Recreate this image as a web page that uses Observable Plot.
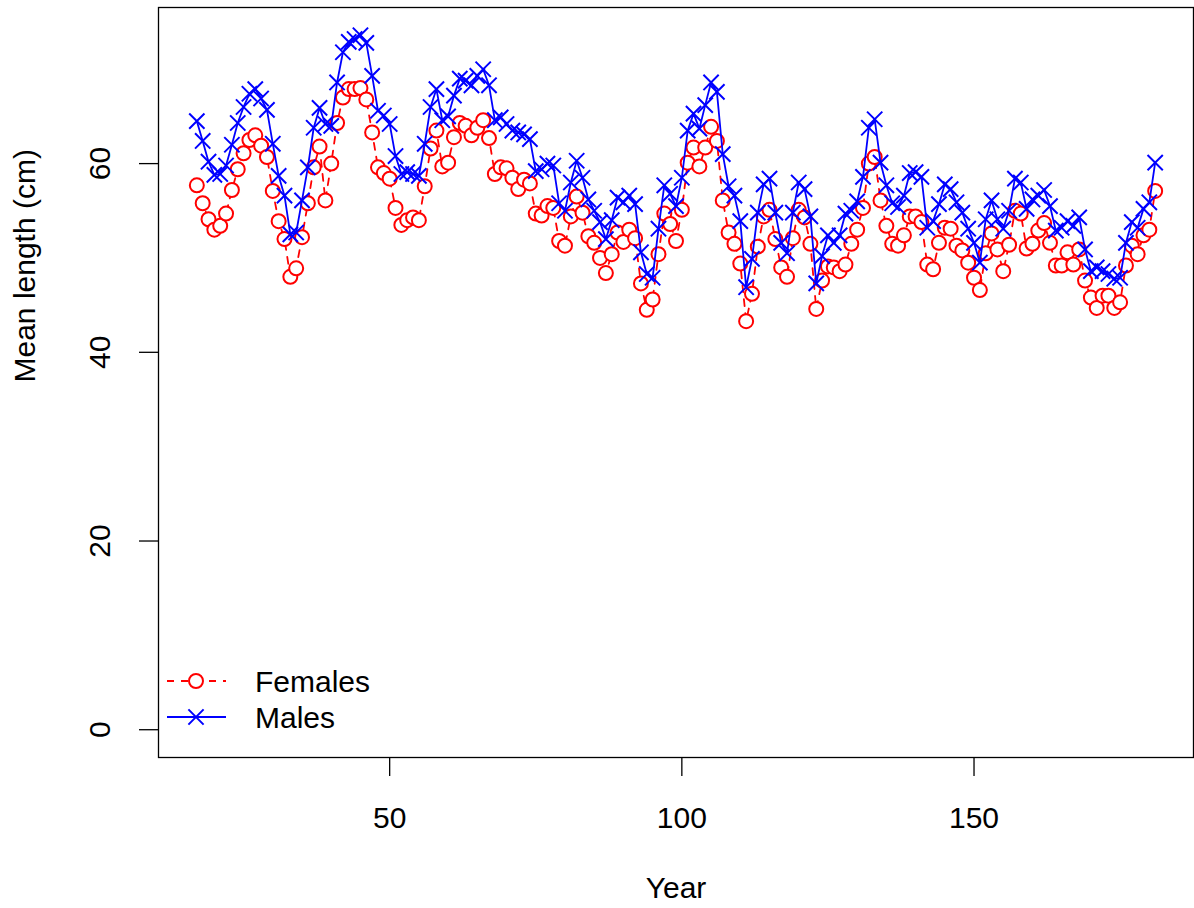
<!DOCTYPE html>
<html>
<head>
<meta charset="utf-8">
<script src="https://cdn.jsdelivr.net/npm/d3@7"></script>
<script src="https://cdn.jsdelivr.net/npm/@observablehq/plot@0.6"></script>
<style>
  html, body { margin: 0; padding: 0; background: #fff; }
  #wrap { position: relative; width: 1194px; height: 908px; font-family: "Liberation Sans", Arial, Helvetica, sans-serif; }
  #legend { position: absolute; left: 0; top: 0; }
</style>
</head>
<body>
<div id="wrap"></div>
<script>
const years = [17,18,19,20,21,22,23,24,25,26,27,28,29,30,31,32,33,34,35,36,37,38,39,40,41,42,43,44,45,46,47,48,49,50,
51,52,53,54,55,56,57,58,59,60,61,62,63,64,65,66,67,68,69,70,71,72,73,74,75,76,77,78,79,80,81,82,83,84,85,86,87,88,89,90,
91,92,93,94,95,96,97,98,99,100,101,102,103,104,105,106,107,108,109,110,111,112,113,114,115,116,117,118,119,120,
121,122,123,124,125,126,127,128,129,130,131,132,133,134,135,136,137,138,139,140,141,142,143,144,145,146,147,148,149,150,
151,152,153,154,155,156,157,158,159,160,161,162,163,164,165,166,167,168,169,170,171,172,173,174,175,176,177,178,179,180,181];

const females = [57.7,55.8,54.1,53.0,53.4,54.7,57.2,59.4,61.1,62.5,63.0,61.9,60.7,57.1,53.9,52.0,48.0,48.9,52.2,55.8,
59.6,61.8,56.1,60.0,64.3,67.0,67.9,67.9,68.0,66.8,63.3,59.6,59.0,58.4,55.3,53.5,54.0,54.3,54.0,57.6,
61.6,63.5,59.7,60.1,62.8,64.3,64.0,63.0,63.8,64.6,62.7,58.9,59.6,59.5,58.5,57.3,58.3,57.9,54.7,54.5,
55.5,55.3,51.8,51.3,54.4,56.5,54.8,52.3,51.6,50.0,48.4,50.4,52.7,51.7,53.0,52.1,47.3,44.5,45.6,50.4,
54.7,53.6,51.8,55.1,60.1,61.7,59.7,61.7,63.9,62.4,56.1,52.7,51.5,49.4,43.3,46.2,51.2,54.4,55.1,52.0,
49.0,48.0,52.1,55.1,54.3,51.5,44.6,47.6,49.1,49.0,48.6,49.3,51.5,53.0,55.3,60.0,60.7,56.1,53.4,51.5,
51.3,52.4,54.4,54.4,53.8,49.3,48.8,51.6,53.2,53.1,51.3,50.8,49.5,47.9,46.6,50.5,52.6,50.9,48.6,51.4,
55.0,54.7,51.0,51.5,52.9,53.7,51.6,49.2,49.2,50.6,49.3,50.9,47.6,45.8,44.7,46.0,46.0,44.7,45.3,49.2,
51.3,50.4,52.4,53.0,57.1];

const males = [64.5,62.4,60.2,58.8,58.9,59.8,62.0,64.3,66.0,67.4,67.9,66.9,65.7,62.1,58.7,56.6,52.5,52.7,56.1,59.6,
63.8,65.9,64.2,64.0,68.6,71.8,72.9,73.2,73.6,72.8,69.3,65.6,65.1,64.2,60.8,58.9,59.1,58.9,58.7,62.1,
66.0,67.9,64.6,65.0,67.2,69.0,68.8,68.3,69.3,70.0,68.3,64.6,64.9,64.2,63.5,63.3,63.1,62.6,59.2,59.4,
60.0,59.8,55.8,55.0,58.0,60.3,58.5,56.2,55.0,53.8,52.0,54.0,56.4,55.9,56.6,55.7,50.6,48.3,47.9,53.1,
57.7,56.8,55.5,58.5,63.5,65.3,63.7,66.2,68.6,67.6,61.0,57.6,56.6,53.9,46.9,49.9,54.8,57.8,58.4,54.8,
51.6,50.5,54.8,58.0,57.3,54.4,47.3,50.2,52.4,51.6,52.4,54.7,55.0,56.0,58.6,63.8,64.7,60.1,57.7,55.8,
55.4,56.6,59.0,59.1,58.6,53.2,53.9,55.7,57.8,57.3,55.9,54.8,53.1,51.6,49.5,54.1,56.1,54.1,53.1,55.0,
58.4,58.0,55.2,56.2,56.6,57.2,55.5,52.9,53.2,53.9,53.4,54.3,50.9,48.6,49.0,48.6,48.3,47.8,47.9,51.6,
53.8,53.2,55.2,55.9,60.1];

const xTicks = [50, 100, 150];
const yTicks = [0, 20, 40, 60];
const xTitle = "Year";
const yTitle = "Mean length (cm)";
const seriesNames = ["Females", "Males"];

const fem = years.map((yr, i) => ({year: yr, value: females[i]}));
const mal = years.map((yr, i) => ({year: yr, value: males[i]}));

// R-style 4% axis extension
const xMin = d3.min(years), xMax = d3.max(years);
const xPad = (xMax - xMin) * 0.04;
const yMaxData = d3.max([...females, ...males]);
const yMinData = 0;
const yPad = (yMaxData - yMinData) * 0.04;

const FONT = 30;

const chart = Plot.plot({
  width: 1194,
  height: 908,
  marginLeft: 158,
  marginRight: 1,
  marginTop: 7,
  marginBottom: 151,
  style: {fontFamily: '"Liberation Sans", Arial, Helvetica, sans-serif', fontSize: FONT + "px", background: "white", color: "black"},
  x: {domain: [xMin - xPad, xMax + xPad]},
  y: {domain: [yMinData - yPad, yMaxData + yPad]},
  marks: [
    Plot.frame({stroke: "black", strokeWidth: 1.3}),
    Plot.axisX({ticks: xTicks, tickSize: 19, tickFormat: () => "", label: null, strokeWidth: 1.3}),
    Plot.axisY({ticks: yTicks, tickSize: 19, tickFormat: () => "", label: null, strokeWidth: 1.3}),
    Plot.text(xTicks, {x: d => d, frameAnchor: "bottom", dy: 61, text: d => String(d), fontSize: FONT, lineAnchor: "middle", fill: "black"}),
    Plot.text(yTicks, {y: d => d, frameAnchor: "left", dx: -58, text: d => String(d), rotate: -90, fontSize: FONT, lineAnchor: "middle", textAnchor: "middle", fill: "black"}),
    Plot.text([xTitle], {frameAnchor: "bottom", dy: 131, text: d => d, fontSize: FONT, lineAnchor: "middle", fill: "black"}),
    Plot.text([yTitle], {frameAnchor: "left", dx: -133, text: d => d, rotate: -90, fontSize: FONT, lineAnchor: "middle", fill: "black"}),
    Plot.line(fem, {x: "year", y: "value", stroke: "#FF0000", strokeWidth: 1.8, strokeDasharray: "7,7"}),
    Plot.dot(fem, {x: "year", y: "value", r: 7, stroke: "#FF0000", strokeWidth: 2, fill: "white"}),
    Plot.line(mal, {x: "year", y: "value", stroke: "#0000FF", strokeWidth: 1.8}),
    Plot.dot(mal, {x: "year", y: "value", r: 7, symbol: "times", stroke: "#0000FF", strokeWidth: 2})
  ]
});

const wrap = document.getElementById("wrap");
wrap.appendChild(chart);

// Legend (R-style, inside plot bottom-left)
const ns = "http://www.w3.org/2000/svg";
const lg = document.createElementNS(ns, "svg");
lg.setAttribute("id", "legend");
lg.setAttribute("width", "400");
lg.setAttribute("height", "908");
const items = [
  {name: seriesNames[0], color: "#FF0000", dash: "7,7", sym: "circle", cy: 681},
  {name: seriesNames[1], color: "#0000FF", dash: null, sym: "times", cy: 717}
];
for (const it of items) {
  const ln = document.createElementNS(ns, "line");
  ln.setAttribute("x1", 167); ln.setAttribute("x2", 226);
  ln.setAttribute("y1", it.cy); ln.setAttribute("y2", it.cy);
  ln.setAttribute("stroke", it.color); ln.setAttribute("stroke-width", 1.8);
  if (it.dash) ln.setAttribute("stroke-dasharray", it.dash);
  lg.appendChild(ln);
  if (it.sym === "circle") {
    const c = document.createElementNS(ns, "circle");
    c.setAttribute("cx", 196); c.setAttribute("cy", it.cy); c.setAttribute("r", 7);
    c.setAttribute("fill", "white"); c.setAttribute("stroke", it.color); c.setAttribute("stroke-width", 2);
    lg.appendChild(c);
  } else {
    const p = document.createElementNS(ns, "path");
    const r = 7.6, cx = 196, cy = it.cy;
    p.setAttribute("d", `M${cx-r},${cy-r}L${cx+r},${cy+r}M${cx-r},${cy+r}L${cx+r},${cy-r}`);
    p.setAttribute("stroke", it.color); p.setAttribute("stroke-width", 2); p.setAttribute("fill", "none");
    lg.appendChild(p);
  }
  const t = document.createElementNS(ns, "text");
  t.setAttribute("x", 255); t.setAttribute("y", it.cy);
  t.setAttribute("dy", "0.35em");
  t.setAttribute("font-size", FONT);
  t.setAttribute("font-family", '"Liberation Sans", Arial, Helvetica, sans-serif');
  t.setAttribute("fill", "black");
  t.textContent = it.name;
  lg.appendChild(t);
}
wrap.appendChild(lg);
</script>
</body>
</html>
